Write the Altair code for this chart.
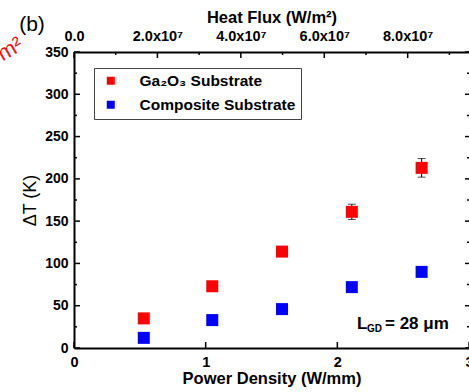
import altair as alt
import pandas as pd

# ---------------- data ----------------
power = [0.53, 1.05, 1.58, 2.11, 2.64]
dt_ga2o3 = [35, 73, 114, 161, 213]
err_ga2o3 = [2, 3, 4, 9, 11]
dt_comp = [12, 33, 46, 72, 90]
series = ["Ga₂O₃ Substrate", "Composite Substrate"]
colors = ["#ff0000", "#0000ff"]

y_major = [0, 50, 100, 150, 200, 250, 300, 350]
y_minor = [25, 75, 125, 175, 225, 275, 325]
x_major = [0, 1, 2, 3]
flux_major = [0, 2e7, 4e7, 6e7, 8e7]
flux_minor = [1e7, 3e7, 5e7, 7e7, 9e7]
FLUX_MAX = 9.47e7

W, H = 395, 296
FONT = "Liberation Sans"

df = pd.DataFrame({
    "power": power + power,
    "dT": dt_ga2o3 + dt_comp,
    "series": [series[0]] * len(power) + [series[1]] * len(power),
})
df_err = pd.DataFrame({
    "power": power,
    "lo": [v - e for v, e in zip(dt_ga2o3, err_ga2o3)],
    "hi": [v + e for v, e in zip(dt_ga2o3, err_ga2o3)],
})
df_ymaj = pd.DataFrame({"v": y_major})
df_ymin = pd.DataFrame({"v": y_minor})
df_xmaj = pd.DataFrame({"power": x_major})
df_fmaj = pd.DataFrame({"f": flux_major})
df_fmin = pd.DataFrame({"f": flux_minor})

xs = alt.Scale(domain=[0, 3], nice=False, zero=False)
ys = alt.Scale(domain=[0, 350], nice=False, zero=False)

x_axis = alt.Axis(
    orient="bottom", values=x_major, format="d", ticks=False, grid=False,
    domainColor="black", domainWidth=2, labelFlush=False,
    labelFont=FONT, labelFontSize=14.5, labelFontWeight="bold", labelColor="black",
    labelPadding=7,
    title="Power Density (W/mm)", titleFont=FONT, titleFontSize=16.5,
    titleFontWeight="bold", titleColor="black", titlePadding=2,
)
y_axis = alt.Axis(
    orient="left", values=y_major, ticks=False, grid=False,
    domainColor="black", domainWidth=2, labelFlush=False,
    labelFont=FONT, labelFontSize=14, labelFontWeight="bold", labelColor="black",
    labelPadding=6,
    title="ΔT (K)", titleFont=FONT, titleFontSize=18, titleFontWeight="normal",
    titleColor="black", titlePadding=5,
)
top_axis = alt.Axis(
    orient="top", values=flux_major, ticks=False, grid=False,
    labelExpr="datum.value == 0 ? '0.0' : format(datum.value / 1e7, '.1f') + 'x10⁷'",
    domainColor="black", domainWidth=2, labelFlush=False,
    labelFont=FONT, labelFontSize=14.5, labelFontWeight="bold", labelColor="black",
    labelPadding=9,
    title="Heat Flux (W/m²)", titleFont=FONT, titleFontSize=16.5,
    titleFontWeight="bold", titleColor="black", titlePadding=3,
)


def X(field):
    return alt.X(f"{field}:Q", scale=xs, axis=x_axis)


def Y(field):
    return alt.Y(f"{field}:Q", scale=ys, axis=y_axis)


err_rule = alt.Chart(df_err).mark_rule(color="black", strokeWidth=1).encode(
    x=X("power"), y=Y("lo"), y2="hi:Q")
cap_lo = alt.Chart(df_err).mark_tick(color="black", thickness=1, size=8, orient="horizontal").encode(
    x=X("power"), y=Y("lo"))
cap_hi = alt.Chart(df_err).mark_tick(color="black", thickness=1, size=8, orient="horizontal").encode(
    x=X("power"), y=Y("hi"))

points = alt.Chart(df).mark_square(size=144, opacity=1, filled=True).encode(
    x=X("power"), y=Y("dT"),
    color=alt.Color("series:N", scale=alt.Scale(domain=series, range=colors),
                    legend=alt.Legend(
                        title=None, orient="none", legendX=20, legendY=16,
                        strokeColor="#444", fillColor="white", padding=5,
                        symbolType="square", symbolSize=64, symbolOffset=4,
                        symbolStrokeWidth=0, labelOffset=21, rowPadding=7,
                        labelFont=FONT, labelFontSize=15.5, labelFontWeight="bold",
                        labelColor="black", labelLimit=300)),
)

# inward ticks (left / right / bottom)
left_maj = alt.Chart(df_ymaj).mark_rule(color="black", strokeWidth=1.5).encode(
    y=Y("v"), x=alt.value(0), x2=alt.value(6))
left_min = alt.Chart(df_ymin).mark_rule(color="black", strokeWidth=1.5).encode(
    y=Y("v"), x=alt.value(0), x2=alt.value(3))
right_maj = alt.Chart(df_ymaj).mark_rule(color="black", strokeWidth=1.5).encode(
    y=Y("v"), x=alt.value(W - 4), x2=alt.value(W))
right_min = alt.Chart(df_ymin).mark_rule(color="black", strokeWidth=1.5).encode(
    y=Y("v"), x=alt.value(W - 2), x2=alt.value(W))
bottom_maj = alt.Chart(df_xmaj).mark_rule(color="black", strokeWidth=1.5).encode(
    x=X("power"), y=alt.value(H), y2=alt.value(H - 6))

main = alt.layer(left_maj, left_min, right_maj, right_min, bottom_maj,
                 err_rule, cap_lo, cap_hi, points)

fs = alt.Scale(domain=[0, FLUX_MAX], nice=False, zero=False)
top_maj = alt.Chart(df_fmaj).mark_rule(color="black", strokeWidth=1.5).encode(
    x=alt.X("f:Q", scale=fs, axis=top_axis), y=alt.value(0), y2=alt.value(6))
top_min = alt.Chart(df_fmin).mark_rule(color="black", strokeWidth=1.5).encode(
    x=alt.X("f:Q", scale=fs, axis=top_axis), y=alt.value(0), y2=alt.value(3))
top = alt.layer(top_maj, top_min)

one = alt.Data(values=[{"a": 1}])
txt_L = alt.Chart(one).mark_text(font=FONT, fontSize=17, fontWeight="bold", align="left",
                                 baseline="alphabetic", color="black").encode(
    x=alt.value(283), y=alt.value(277), text=alt.value("L"))
txt_GD = alt.Chart(one).mark_text(font=FONT, fontSize=10, fontWeight="bold", align="left",
                                  baseline="alphabetic", color="black").encode(
    x=alt.value(293), y=alt.value(280), text=alt.value("GD"))
txt_eq = alt.Chart(one).mark_text(font=FONT, fontSize=17, fontWeight="bold", align="left",
                                  baseline="alphabetic", color="black").encode(
    x=alt.value(311), y=alt.value(277), text=alt.value("= 28 μm"))
txt_b = alt.Chart(one).mark_text(font=FONT, fontSize=21, fontWeight="normal", align="center",
                                 baseline="alphabetic", color="black").encode(
    x=alt.value(-42), y=alt.value(-21), text=alt.value("(b)"))
txt_m = alt.Chart(one).mark_text(font=FONT, fontSize=22, fontWeight="normal", align="center",
                                 baseline="middle", color="#ee1111", angle=330).encode(
    x=alt.value(-64), y=alt.value(-3), text=alt.value("m²"))

chart = alt.layer(main, top, txt_L, txt_GD, txt_eq, txt_b, txt_m).resolve_scale(
    x="independent"
).properties(
    width=W, height=H,
    padding={"left": 74, "top": 52, "right": 0, "bottom": 44},
    autosize=alt.AutoSizeParams(type="none"),
).configure_view(stroke=None).configure(font=FONT, background="white")

chart.save("out.html", embed_options={"renderer": "svg", "actions": False})
